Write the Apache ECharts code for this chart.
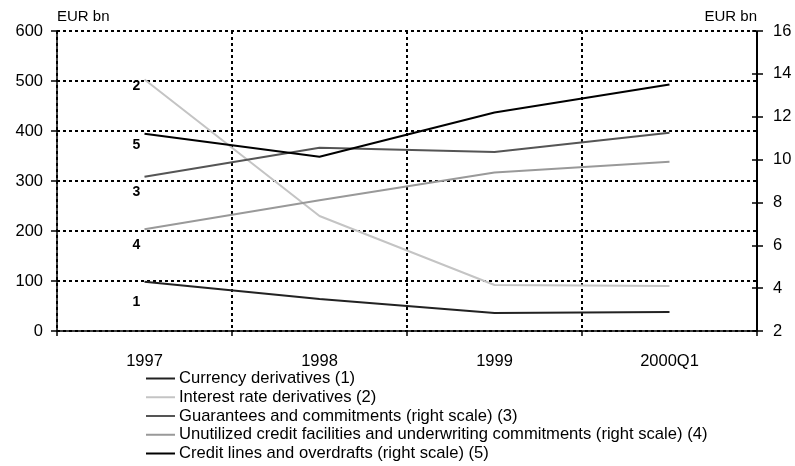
<!DOCTYPE html>
<html><head><meta charset="utf-8">
<script src="https://cdn.jsdelivr.net/npm/echarts@6/dist/echarts.min.js"></script>
<style>html,body{margin:0;padding:0;background:#fff}#c{width:795px;height:466px}</style>
</head><body><div id="c"></div>
<script>
const categories = ['1997', '1998', '1999', '2000Q1'];
const currencyDerivatives = [98.6, 64, 36, 38];
const interestRateDerivatives = [503, 230, 92, 90];
const guarantees = [9.2, 10.55, 10.35, 11.25];
const unutilizedCredit = [6.75, 8.1, 9.4, 9.9];
const creditLines = [11.2, 10.13, 12.2, 13.5];
const seriesNames = [
  'Currency derivatives (1)',
  'Interest rate derivatives (2)',
  'Guarantees and commitments (right scale) (3)',
  'Unutilized credit facilities and underwriting commitments (right scale) (4)',
  'Credit lines and overdrafts (right scale) (5)'
];
const seriesTags = ['1', '2', '3', '4', '5'];

const FONT = '"Liberation Sans", Arial, sans-serif';
const dotted = {color: '#000', width: 2, type: [3, 3]};
const colors = ['#222222', '#c4c4c4', '#555555', '#999999', '#000000'];
const tagOffsets = [[-8, 20], [-8, 6.5], [-8, 15], [-8, 16], [-8, 11.5]];
const allData = [currencyDerivatives, interestRateDerivatives, guarantees, unutilizedCredit, creditLines];
const axisIdx = [0, 0, 1, 1, 1];

const series = allData.map((arr, i) => ({
  name: seriesNames[i],
  type: 'line',
  yAxisIndex: axisIdx[i],
  symbol: 'circle',
  symbolSize: 0,
  showSymbol: true,
  lineStyle: {color: colors[i], width: 2},
  itemStyle: {color: colors[i]},
  emphasis: {disabled: true},
  data: arr.map((v, j) => j === 0 ? {
    value: v,
    label: {show: true, formatter: seriesTags[i], position: 'inside', offset: tagOffsets[i],
      color: '#000', fontWeight: 'bold', fontSize: 14, fontFamily: FONT}
  } : v)
}));

const chart = echarts.init(document.getElementById('c'), null, {renderer: 'canvas'});
chart.setOption({
  animation: false,
  backgroundColor: '#fff',
  textStyle: {fontFamily: FONT},
  grid: {left: 57, right: 38, top: 31, bottom: 135, containLabel: false},
  legend: {
    orient: 'vertical', left: 146, top: 370, height: 120, padding: 0, itemGap: 1.75,
    itemWidth: 29, itemHeight: 2, icon: 'rect', selectedMode: false,
    textStyle: {color: '#000', fontSize: 16.6, fontFamily: FONT, padding: [0, 0, 0, -1]},
    data: seriesNames
  },
  xAxis: {
    type: 'category', data: categories, boundaryGap: true,
    axisLine: {lineStyle: {color: '#000', width: 1.5}},
    axisTick: {show: true, length: 5, lineStyle: {color: '#000', width: 1.5}},
    axisLabel: {color: '#000', fontSize: 16.5, margin: 22, fontFamily: FONT},
    splitLine: {show: true, lineStyle: dotted}
  },
  yAxis: [
    {
      type: 'value', min: 0, max: 600, interval: 100, position: 'left',
      name: 'EUR bn', nameLocation: 'end', nameGap: 7,
      nameTextStyle: {color: '#000', fontSize: 15, align: 'left', fontFamily: FONT},
      axisLine: {show: true, lineStyle: {color: '#000', width: 1.5}},
      axisTick: {show: true, length: 6, lineStyle: {color: '#000', width: 1.5}},
      axisLabel: {color: '#000', fontSize: 16.5, margin: 14, fontFamily: FONT},
      splitLine: {show: true, lineStyle: dotted}
    },
    {
      type: 'value', min: 2, max: 16, interval: 2, position: 'right',
      name: 'EUR bn', nameLocation: 'end', nameGap: 7,
      nameTextStyle: {color: '#000', fontSize: 15, align: 'right', fontFamily: FONT},
      axisLine: {show: true, lineStyle: dotted},
      axisTick: {show: true, length: 6, lineStyle: {color: '#000', width: 1.5}},
      axisLabel: {color: '#000', fontSize: 16.5, margin: 16, fontFamily: FONT},
      splitLine: {show: false}
    },
    {
      type: 'value', min: 2, max: 16, interval: 2, position: 'right', offset: 0,
      axisLine: {show: false},
      axisTick: {show: true, inside: true, length: 5, lineStyle: {color: '#000', width: 1.5}},
      axisLabel: {show: false},
      splitLine: {show: false}
    }
  ],
  series: series
});
</script></body></html>
